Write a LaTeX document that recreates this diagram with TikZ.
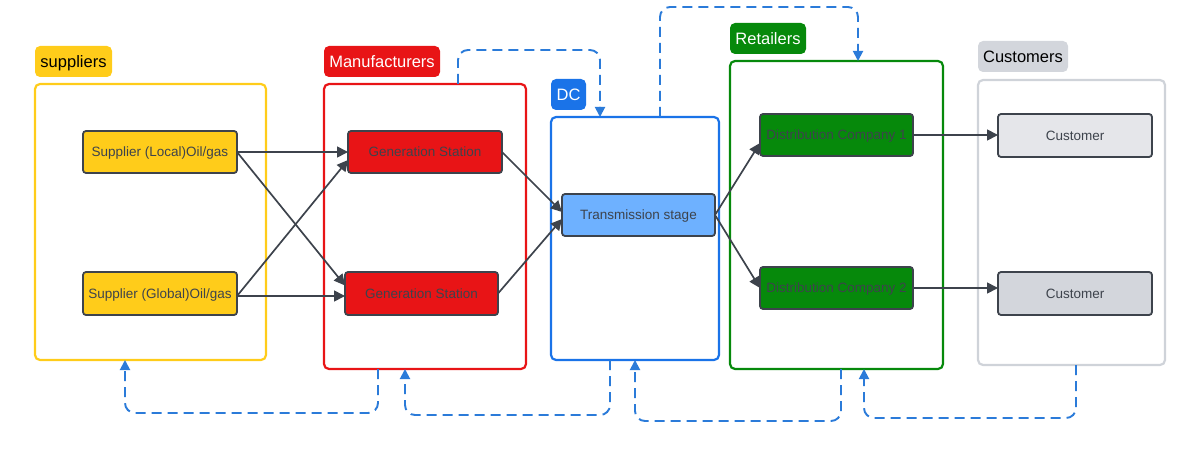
\documentclass[tikz,border=0pt]{standalone}
\usepackage{fontspec}
\setmainfont{Liberation Sans}
\usetikzlibrary{arrows.meta}
\definecolor{cyel}{HTML}{FFCC1A}
\definecolor{cred}{HTML}{E81416}
\definecolor{cblue}{HTML}{1A73E8}
\definecolor{cgreen}{HTML}{06890B}
\definecolor{clblue}{HTML}{6EB1FF}
\definecolor{cgrey}{HTML}{D3D6DC}
\definecolor{cgreyb}{HTML}{CFD3D9}
\definecolor{cdark}{HTML}{3D434C}
\definecolor{cdash}{HTML}{2B7BD9}
\tikzset{
  grp/.style={draw=#1, line width=2.2pt, rounded corners=5pt, inner sep=0pt, outer sep=0pt},
  lab/.style={fill=#1, rounded corners=5pt, inner sep=0pt, outer sep=0pt, font=\fontsize{16.5}{18}\selectfont, minimum height=31pt, text height=15.3pt, text depth=3.5pt},
  nd/.style={fill=#1, draw=cdark, line width=1.8pt, rounded corners=3pt, inner sep=0pt, outer sep=0pt, text=cdark, font=\fontsize{13.5}{15}\selectfont, text height=12.3pt, text depth=2.8pt},
  arr/.style={draw=cdark, line width=1.7pt, -{Triangle[width=11pt,length=11pt]}},
  fb/.style={draw=cdash, line width=1.9pt, dash pattern=on 10pt off 6pt, rounded corners=10pt, -{Triangle[width=10pt,length=10pt,fill=cdash]}}
}
\begin{document}
\begin{tikzpicture}[x=1pt,y=-1pt]
\useasboundingbox (0,0) rectangle (1201,449);
% groups
\node[grp=cyel, minimum width=231, minimum height=276] (supbox) at (150.5,222) {};
\node[grp=cred, minimum width=202, minimum height=285] (manbox) at (425,226.5) {};
\node[grp=cblue, minimum width=168, minimum height=243] (dcbox) at (635,238.5) {};
\node[grp=cgreen, minimum width=213, minimum height=308] (retbox) at (836.5,215) {};
\node[grp=cgreyb, minimum width=187, minimum height=285] (cusbox) at (1071.5,222.5) {};
% labels
\node[lab=cyel, minimum width=77, text=black] (suplab) at (73.5,61.5) {suppliers};
\node[lab=cred, minimum width=116, text=white] (manlab) at (382,61.5) {Manufacturers};
\node[lab=cblue, minimum width=35, text=white] (dclab) at (568.5,94.5) {DC};
\node[lab=cgreen, minimum width=76, text=white] (retlab) at (768,38.5) {Retailers};
\node[lab=cgrey, minimum width=90, text=black] (cuslab) at (1023,56.5) {Customers};
% nodes
\node[nd=cyel, minimum width=154, minimum height=42] (loc) at (160,152) {Supplier (Local)Oil/gas};
\node[nd=cyel, minimum width=154, minimum height=43] (glob) at (160,293.5) {Supplier (Global)Oil/gas};
\node[nd=cred, minimum width=154, minimum height=42] (gen1) at (425,152) {Generation Station};
\node[nd=cred, minimum width=153, minimum height=43] (gen2) at (421.5,293.5) {Generation Station};
\node[nd=clblue, minimum width=153, minimum height=42] (trans) at (638.5,215) {Transmission stage};
\node[nd=cgreen, minimum width=153, minimum height=42] (dist1) at (836.5,135) {Distribution Company 1};
\node[nd=cgreen, minimum width=153, minimum height=42] (dist2) at (836.5,288) {Distribution Company 2};
\node[nd=cgrey!60!white, minimum width=154, minimum height=43] (cus1) at (1075,135.5) {Customer};
\node[nd=cgrey, minimum width=154, minimum height=43] (cus2) at (1075,293.5) {Customer};
\coordinate (gout) at ([yshift=-2.5pt]glob.east);
% arrows
\draw[arr] (loc.east) -- (gen1.west);
\draw[arr] (loc.east) -- ([yshift=8pt]gen2.west);
\draw[arr] (gout) -- ([yshift=-8pt]gen1.west);
\draw[arr] (gout) -- (gout -| gen2.west);
\draw[arr] (gen1.east) -- ([yshift=3pt]trans.west);
\draw[arr] (gen2.east) -- ([yshift=-4pt]trans.west);
\draw[arr] (trans.east) -- ([yshift=-8pt]dist1.west);
\draw[arr] (trans.east) -- (dist2.west);
\draw[arr] (dist1.east) -- (dist1.east -| cus1.west);
\draw[arr] (dist2.east) -- (dist2.east -| cus2.west);
% feedback dashed
\draw[fb] (manbox.north -| 458,0) -- (458,50) -- (600,50) -- (dcbox.north -| 600,0);
\draw[fb] (dcbox.north -| 660,0) -- (660,7) -- (858,7) -- (retbox.north -| 858,0);
\draw[fb] (manbox.south -| 378,0) -- (378,413) -- (125,413) -- (supbox.south -| 125,0);
\draw[fb] (dcbox.south -| 610,0) -- (610,415) -- (405,415) -- (manbox.south -| 405,0);
\draw[fb] (retbox.south -| 841,0) -- (841,421) -- (635,421) -- (dcbox.south -| 635,0);
\draw[fb] (cusbox.south -| 1076,0) -- (1076,418) -- (864,418) -- (retbox.south -| 864,0);
\end{tikzpicture}
\end{document}
